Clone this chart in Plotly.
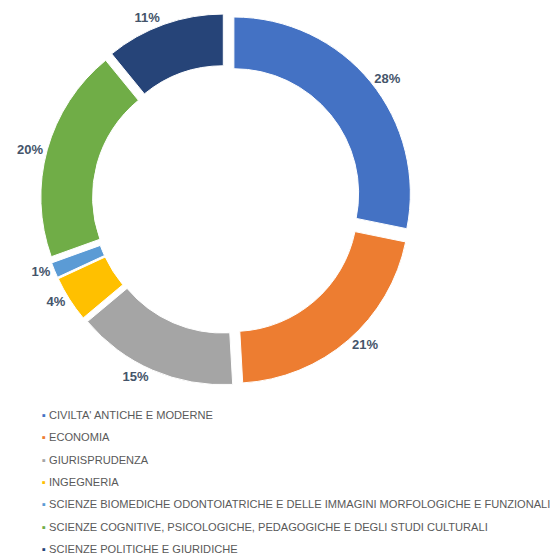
import plotly.graph_objects as go

categories = [
    "CIVILTA' ANTICHE E MODERNE",
    "ECONOMIA",
    "GIURISPRUDENZA",
    "INGEGNERIA",
    "SCIENZE BIOMEDICHE ODONTOIATRICHE E DELLE IMMAGINI MORFOLOGICHE E FUNZIONALI",
    "SCIENZE COGNITIVE, PSICOLOGICHE, PEDAGOGICHE E DEGLI STUDI CULTURALI",
    "SCIENZE POLITICHE E GIURIDICHE",
]
values = [28.2, 20.9, 14.8, 4.2, 1.4, 19.6, 10.9]
colors = ["#4472C4", "#ED7D31", "#A5A5A5", "#FFC000", "#5B9BD5", "#70AD47", "#264478"]

W, H = 558, 556
FONT = "Liberation Sans, Arial, Helvetica, sans-serif"

fig = go.Figure()
fig.add_trace(go.Pie(
    labels=categories,
    values=values,
    sort=False,
    direction="clockwise",
    rotation=0,
    hole=0.707,
    pull=0.054,
    marker=dict(colors=colors, line=dict(color="white", width=1)),
    textposition="outside",
    texttemplate="%{percent:.0%}",
    outsidetextfont=dict(family=FONT, size=13, color="#44546A", weight="bold"),
    domain=dict(x=[40.5 / W, 412.5 / W], y=[170.5 / H, 542.5 / H]),
    automargin=False,
    showlegend=False,
))

legend_y0 = 415
legend_step = 22.3
for i, (name, col) in enumerate(zip(categories, colors)):
    y = legend_y0 + i * legend_step
    fig.add_annotation(
        x=40 / W, y=1 - y / H, xref="paper", yref="paper",
        xanchor="left", yanchor="middle", showarrow=False,
        text=f"<span style='color:{col}'>▪</span> {name}",
        font=dict(family=FONT, size=11.1, color="#595959"),
    )

fig.update_layout(
    width=W, height=H,
    margin=dict(l=0, r=0, t=0, b=0, autoexpand=False),
    paper_bgcolor="white",
    plot_bgcolor="white",
)

fig.write_html(
    "out.html",
    config={"displayModeBar": False},
    post_script="document.body.style.margin='0';document.body.style.overflow='hidden';",
)
